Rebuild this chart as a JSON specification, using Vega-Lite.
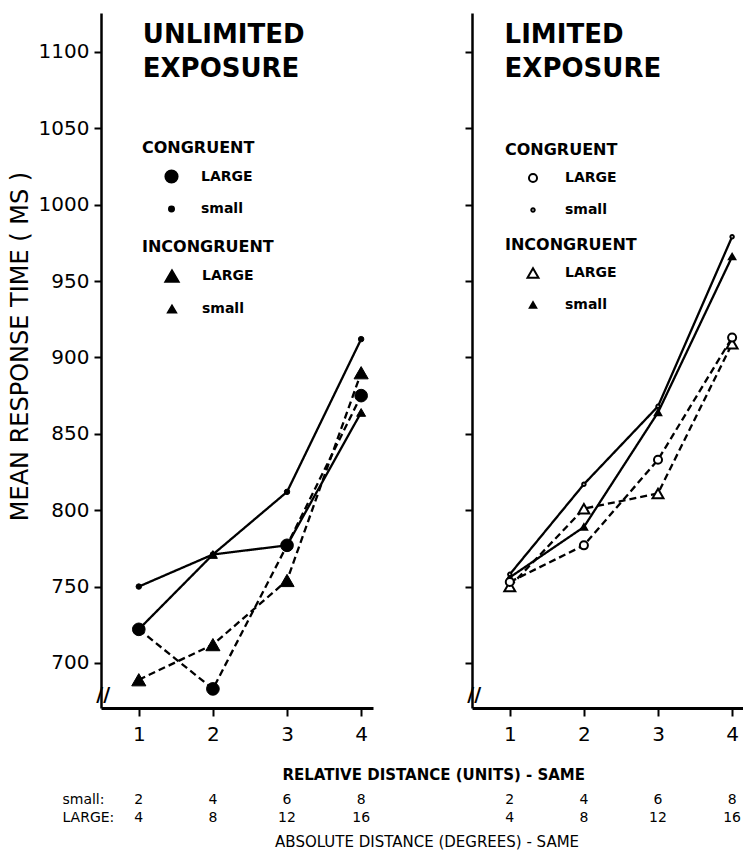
{
  "$schema": "https://vega.github.io/schema/vega-lite/v6.json",
  "background": "white",
  "padding": {"left": 8, "top": 13, "right": 0, "bottom": 0},
  "autosize": {"type": "pad"},
  "bounds": "flush",
  "spacing": 99,
  "config": {
    "view": {"stroke": null},
    "font": "DejaVu Sans",
    "axis": {"domainColor": "black", "domainWidth": 2.5, "tickColor": "black", "tickWidth": 2, "tickSize": 7, "labelColor": "black", "labelFont": "DejaVu Sans", "labelFontSize": 20, "grid": false, "titleColor": "black", "titleFont": "DejaVu Sans"},
    "legend": {"orient": "none", "direction": "vertical", "titleFont": "DejaVu Sans", "titleFontSize": 16, "titleFontWeight": "bold", "titleColor": "black", "labelFont": "DejaVu Sans", "labelFontSize": 14, "labelFontWeight": "bold", "labelColor": "black", "padding": 0, "rowPadding": 16, "titlePadding": 13}
  },
  "datasets": {
    "rt": [
      {"panel": "UNLIMITED", "condition": "CONGRUENT", "size": "LARGE", "units": 1, "rt": 722},
      {"panel": "UNLIMITED", "condition": "CONGRUENT", "size": "LARGE", "units": 2, "rt": 683},
      {"panel": "UNLIMITED", "condition": "CONGRUENT", "size": "LARGE", "units": 3, "rt": 777},
      {"panel": "UNLIMITED", "condition": "CONGRUENT", "size": "LARGE", "units": 4, "rt": 875},
      {"panel": "UNLIMITED", "condition": "CONGRUENT", "size": "small", "units": 1, "rt": 750},
      {"panel": "UNLIMITED", "condition": "CONGRUENT", "size": "small", "units": 2, "rt": 771},
      {"panel": "UNLIMITED", "condition": "CONGRUENT", "size": "small", "units": 3, "rt": 812},
      {"panel": "UNLIMITED", "condition": "CONGRUENT", "size": "small", "units": 4, "rt": 912},
      {"panel": "UNLIMITED", "condition": "INCONGRUENT", "size": "LARGE", "units": 1, "rt": 689},
      {"panel": "UNLIMITED", "condition": "INCONGRUENT", "size": "LARGE", "units": 2, "rt": 712},
      {"panel": "UNLIMITED", "condition": "INCONGRUENT", "size": "LARGE", "units": 3, "rt": 754},
      {"panel": "UNLIMITED", "condition": "INCONGRUENT", "size": "LARGE", "units": 4, "rt": 890},
      {"panel": "UNLIMITED", "condition": "INCONGRUENT", "size": "small", "units": 1, "rt": 722},
      {"panel": "UNLIMITED", "condition": "INCONGRUENT", "size": "small", "units": 2, "rt": 771},
      {"panel": "UNLIMITED", "condition": "INCONGRUENT", "size": "small", "units": 3, "rt": 777},
      {"panel": "UNLIMITED", "condition": "INCONGRUENT", "size": "small", "units": 4, "rt": 864},
      {"panel": "LIMITED", "condition": "CONGRUENT", "size": "LARGE", "units": 1, "rt": 753},
      {"panel": "LIMITED", "condition": "CONGRUENT", "size": "LARGE", "units": 2, "rt": 777},
      {"panel": "LIMITED", "condition": "CONGRUENT", "size": "LARGE", "units": 3, "rt": 833},
      {"panel": "LIMITED", "condition": "CONGRUENT", "size": "LARGE", "units": 4, "rt": 913},
      {"panel": "LIMITED", "condition": "CONGRUENT", "size": "small", "units": 1, "rt": 758},
      {"panel": "LIMITED", "condition": "CONGRUENT", "size": "small", "units": 2, "rt": 817},
      {"panel": "LIMITED", "condition": "CONGRUENT", "size": "small", "units": 3, "rt": 868},
      {"panel": "LIMITED", "condition": "CONGRUENT", "size": "small", "units": 4, "rt": 979},
      {"panel": "LIMITED", "condition": "INCONGRUENT", "size": "LARGE", "units": 1, "rt": 750},
      {"panel": "LIMITED", "condition": "INCONGRUENT", "size": "LARGE", "units": 2, "rt": 801},
      {"panel": "LIMITED", "condition": "INCONGRUENT", "size": "LARGE", "units": 3, "rt": 811},
      {"panel": "LIMITED", "condition": "INCONGRUENT", "size": "LARGE", "units": 4, "rt": 909},
      {"panel": "LIMITED", "condition": "INCONGRUENT", "size": "small", "units": 1, "rt": 756},
      {"panel": "LIMITED", "condition": "INCONGRUENT", "size": "small", "units": 2, "rt": 789},
      {"panel": "LIMITED", "condition": "INCONGRUENT", "size": "small", "units": 3, "rt": 864},
      {"panel": "LIMITED", "condition": "INCONGRUENT", "size": "small", "units": 4, "rt": 966}
    ],
    "dist": [
      {"units": 1, "small": "2", "large": "4"},
      {"units": 2, "small": "4", "large": "8"},
      {"units": 3, "small": "6", "large": "12"},
      {"units": 4, "small": "8", "large": "16"}
    ]
  },
  "hconcat": [
    {
      "width": 272,
      "height": 695,
      "layer": [
        {
          "data": {"name": "rt"},
          "transform": [{"filter": "datum.panel === 'UNLIMITED'"}],
          "mark": {"type": "line", "color": "black", "strokeWidth": 2.3},
          "encoding": {
            "x": {"field": "units", "type": "quantitative", "scale": {"domain": [0.49, 4.16], "nice": false, "zero": false}, "axis": {"values": [1, 2, 3, 4], "title": null, "format": "d", "labelPadding": 8, "tickSize": 8, "domainWidth": 3}},
            "y": {"field": "rt", "type": "quantitative", "scale": {"domain": [670.5, 1125.5], "nice": false, "zero": false}, "axis": {"values": [700, 750, 800, 850, 900, 950, 1000, 1050, 1100], "format": "d", "title": "MEAN RESPONSE TIME ( MS )", "titleFontSize": 24, "titleFontWeight": "normal", "titlePadding": 6, "titleY": 333, "labelPadding": 5}},
            "detail": [{"field": "condition"}, {"field": "size"}],
            "strokeDash": {"field": "size", "type": "nominal", "scale": {"domain": ["LARGE", "small"], "range": [[7, 4], [1, 0]]}, "legend": null}
          }
        },
        {
          "data": {"name": "rt"},
          "transform": [{"filter": "datum.panel === 'UNLIMITED' && datum.condition === 'INCONGRUENT'"}],
          "mark": {"type": "point", "filled": true, "fill": "black", "stroke": "black", "strokeWidth": 1, "opacity": 1},
          "encoding": {
            "x": {"field": "units", "type": "quantitative"},
            "y": {"field": "rt", "type": "quantitative"},
            "shape": {"field": "size", "type": "nominal", "scale": {"domain": ["LARGE", "small"], "range": ["triangle-up", "triangle-up"]}, "legend": {"title": "INCONGRUENT", "legendX": 41, "legendY": 226, "symbolOffset": 22, "labelOffset": 22}},
            "size": {"field": "size", "type": "nominal", "scale": {"domain": ["LARGE", "small"], "range": [200, 80]}, "legend": {"title": "INCONGRUENT", "legendX": 41, "legendY": 226, "symbolOffset": 22, "labelOffset": 22}}
          }
        },
        {
          "data": {"name": "rt"},
          "transform": [{"filter": "datum.panel === 'UNLIMITED' && datum.condition === 'CONGRUENT'"}],
          "mark": {"type": "point", "filled": true, "fill": "black", "stroke": "black", "strokeWidth": 1, "opacity": 1},
          "encoding": {
            "x": {"field": "units", "type": "quantitative"},
            "y": {"field": "rt", "type": "quantitative"},
            "shape": {"field": "size", "type": "nominal", "scale": {"domain": ["LARGE", "small"], "range": ["circle", "circle"]}, "legend": {"title": "CONGRUENT", "legendX": 41, "legendY": 127, "symbolOffset": 22, "labelOffset": 22}},
            "size": {"field": "size", "type": "nominal", "scale": {"domain": ["LARGE", "small"], "range": [160, 30]}, "legend": {"title": "CONGRUENT", "legendX": 41, "legendY": 127, "symbolOffset": 22, "labelOffset": 22}}
          }
        },
        {
          "data": {"values": [{"label": "UNLIMITED\nEXPOSURE"}]},
          "mark": {"type": "text", "align": "left", "baseline": "top", "fontSize": 26, "fontWeight": "bold", "lineBreak": "\n", "lineHeight": 34, "color": "black"},
          "encoding": {"x": {"datum": 1.054, "type": "quantitative"}, "y": {"datum": 1119.3, "type": "quantitative"}, "text": {"field": "label", "type": "nominal"}}
        },
        {
          "data": {"values": [{"label": "//"}]},
          "mark": {"type": "text", "align": "center", "baseline": "middle", "fontSize": 19, "fontWeight": "bold", "color": "black"},
          "encoding": {"x": {"datum": 0.52, "type": "quantitative"}, "y": {"datum": 679, "type": "quantitative"}, "text": {"field": "label", "type": "nominal"}}
        },
        {
          "data": {"values": [{"label": "RELATIVE  DISTANCE  (UNITS)  -  SAME"}]},
          "mark": {"type": "text", "align": "center", "baseline": "middle", "fontSize": 15, "fontWeight": "bold", "color": "black"},
          "encoding": {"x": {"datum": 4.98, "type": "quantitative"}, "y": {"datum": 626.7, "type": "quantitative"}, "text": {"field": "label", "type": "nominal"}}
        },
        {
          "data": {"values": [{"label": "ABSOLUTE  DISTANCE  (DEGREES) - SAME"}]},
          "mark": {"type": "text", "align": "center", "baseline": "middle", "fontSize": 15, "color": "black"},
          "encoding": {"x": {"datum": 4.89, "type": "quantitative"}, "y": {"datum": 582.9, "type": "quantitative"}, "text": {"field": "label", "type": "nominal"}}
        },
        {
          "data": {"values": [{"label": "small:"}]},
          "mark": {"type": "text", "align": "left", "baseline": "middle", "fontSize": 14, "color": "black"},
          "encoding": {"x": {"datum": -0.03, "type": "quantitative"}, "y": {"datum": 610.3, "type": "quantitative"}, "text": {"field": "label", "type": "nominal"}}
        },
        {
          "data": {"values": [{"label": "LARGE:"}]},
          "mark": {"type": "text", "align": "left", "baseline": "middle", "fontSize": 14, "color": "black"},
          "encoding": {"x": {"datum": -0.03, "type": "quantitative"}, "y": {"datum": 598.6, "type": "quantitative"}, "text": {"field": "label", "type": "nominal"}}
        },
        {
          "data": {"name": "dist"},
          "mark": {"type": "text", "align": "center", "baseline": "middle", "fontSize": 14, "color": "black"},
          "encoding": {"x": {"field": "units", "type": "quantitative"}, "y": {"datum": 610.3, "type": "quantitative"}, "text": {"field": "small", "type": "nominal"}}
        },
        {
          "data": {"name": "dist"},
          "mark": {"type": "text", "align": "center", "baseline": "middle", "fontSize": 14, "color": "black"},
          "encoding": {"x": {"field": "units", "type": "quantitative"}, "y": {"datum": 598.6, "type": "quantitative"}, "text": {"field": "large", "type": "nominal"}}
        }
      ],
      "resolve": {"scale": {"shape": "independent", "size": "independent"}, "legend": {"shape": "independent", "size": "independent"}}
    },
    {
      "width": 271,
      "height": 695,
      "layer": [
        {
          "data": {"name": "rt"},
          "transform": [{"filter": "datum.panel === 'LIMITED'"}],
          "mark": {"type": "line", "color": "black", "strokeWidth": 2.3},
          "encoding": {
            "x": {"field": "units", "type": "quantitative", "scale": {"domain": [0.49, 4.147], "nice": false, "zero": false}, "axis": {"values": [1, 2, 3, 4], "title": null, "format": "d", "labelPadding": 8, "tickSize": 8, "domainWidth": 3}},
            "y": {"field": "rt", "type": "quantitative", "scale": {"domain": [670.5, 1125.5], "nice": false, "zero": false}, "axis": {"values": [700, 750, 800, 850, 900, 950, 1000, 1050, 1100], "labels": false, "title": null}},
            "detail": [{"field": "condition"}, {"field": "size"}],
            "strokeDash": {"field": "size", "type": "nominal", "scale": {"domain": ["LARGE", "small"], "range": [[7, 4], [1, 0]]}, "legend": null}
          }
        },
        {
          "data": {"name": "rt"},
          "transform": [{"filter": "datum.panel === 'LIMITED' && datum.condition === 'INCONGRUENT'"}],
          "mark": {"type": "point", "filled": true, "strokeWidth": 2, "opacity": 1},
          "encoding": {
            "x": {"field": "units", "type": "quantitative"},
            "y": {"field": "rt", "type": "quantitative"},
            "shape": {"field": "size", "type": "nominal", "scale": {"domain": ["LARGE", "small"], "range": ["triangle-up", "triangle-up"]}, "legend": {"title": "INCONGRUENT", "legendX": 33, "legendY": 224, "symbolOffset": 21, "labelOffset": 25, "symbolStrokeWidth": 2}},
            "size": {"field": "size", "type": "nominal", "scale": {"domain": ["LARGE", "small"], "range": [120, 40]}, "legend": {"title": "INCONGRUENT", "legendX": 33, "legendY": 224, "symbolOffset": 21, "labelOffset": 25, "symbolStrokeWidth": 2}},
            "fill": {"field": "size", "type": "nominal", "scale": {"domain": ["LARGE", "small"], "range": ["white", "black"]}, "legend": {"title": "INCONGRUENT", "legendX": 33, "legendY": 224, "symbolOffset": 21, "labelOffset": 25, "symbolStrokeWidth": 2}},
            "stroke": {"field": "size", "type": "nominal", "scale": {"domain": ["LARGE", "small"], "range": ["black", "black"]}, "legend": {"title": "INCONGRUENT", "legendX": 33, "legendY": 224, "symbolOffset": 21, "labelOffset": 25, "symbolStrokeWidth": 2}}
          }
        },
        {
          "data": {"name": "rt"},
          "transform": [{"filter": "datum.panel === 'LIMITED' && datum.condition === 'CONGRUENT'"}],
          "mark": {"type": "point", "filled": true, "strokeWidth": 2, "opacity": 1},
          "encoding": {
            "x": {"field": "units", "type": "quantitative"},
            "y": {"field": "rt", "type": "quantitative"},
            "shape": {"field": "size", "type": "nominal", "scale": {"domain": ["LARGE", "small"], "range": ["circle", "circle"]}, "legend": {"title": "CONGRUENT", "legendX": 33, "legendY": 129, "symbolOffset": 21, "labelOffset": 25, "symbolStrokeWidth": 2}},
            "size": {"field": "size", "type": "nominal", "scale": {"domain": ["LARGE", "small"], "range": [65, 12]}, "legend": {"title": "CONGRUENT", "legendX": 33, "legendY": 129, "symbolOffset": 21, "labelOffset": 25, "symbolStrokeWidth": 2}},
            "fill": {"field": "size", "type": "nominal", "scale": {"domain": ["LARGE", "small"], "range": ["white", "white"]}, "legend": {"title": "CONGRUENT", "legendX": 33, "legendY": 129, "symbolOffset": 21, "labelOffset": 25, "symbolStrokeWidth": 2}},
            "stroke": {"field": "size", "type": "nominal", "scale": {"domain": ["LARGE", "small"], "range": ["black", "black"]}, "legend": {"title": "CONGRUENT", "legendX": 33, "legendY": 129, "symbolOffset": 21, "labelOffset": 25, "symbolStrokeWidth": 2}}
          }
        },
        {
          "data": {"values": [{"label": "LIMITED\nEXPOSURE"}]},
          "mark": {"type": "text", "align": "left", "baseline": "top", "fontSize": 26, "fontWeight": "bold", "lineBreak": "\n", "lineHeight": 34, "color": "black"},
          "encoding": {"x": {"datum": 0.93, "type": "quantitative"}, "y": {"datum": 1119.3, "type": "quantitative"}, "text": {"field": "label", "type": "nominal"}}
        },
        {
          "data": {"values": [{"label": "//"}]},
          "mark": {"type": "text", "align": "center", "baseline": "middle", "fontSize": 19, "fontWeight": "bold", "color": "black"},
          "encoding": {"x": {"datum": 0.52, "type": "quantitative"}, "y": {"datum": 679, "type": "quantitative"}, "text": {"field": "label", "type": "nominal"}}
        },
        {
          "data": {"name": "dist"},
          "mark": {"type": "text", "align": "center", "baseline": "middle", "fontSize": 14, "color": "black"},
          "encoding": {"x": {"field": "units", "type": "quantitative"}, "y": {"datum": 610.3, "type": "quantitative"}, "text": {"field": "small", "type": "nominal"}}
        },
        {
          "data": {"name": "dist"},
          "mark": {"type": "text", "align": "center", "baseline": "middle", "fontSize": 14, "color": "black"},
          "encoding": {"x": {"field": "units", "type": "quantitative"}, "y": {"datum": 598.6, "type": "quantitative"}, "text": {"field": "large", "type": "nominal"}}
        }
      ],
      "resolve": {"scale": {"shape": "independent", "size": "independent", "fill": "independent", "stroke": "independent"}, "legend": {"shape": "independent", "size": "independent", "fill": "independent", "stroke": "independent"}}
    }
  ]
}
